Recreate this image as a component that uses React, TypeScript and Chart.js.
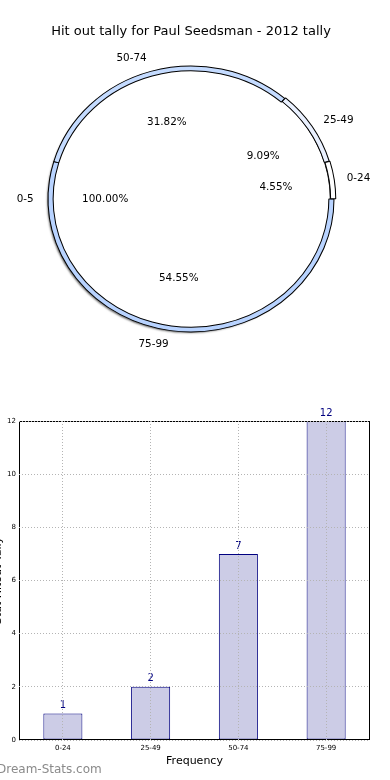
import React, { useEffect, useRef } from 'react';
import { Chart, registerables } from 'chart.js';

Chart.register(...registerables);
Chart.defaults.font.family = '"DejaVu Sans", sans-serif';

const TITLE = 'Hit out tally for Paul Seedsman - 2012 tally';
const ringLabels = ['0-24', '25-49', '50-74', '75-99'];
const ringValues = [1, 2, 7, 12];
const ringColors = ['#ffffff', '#eaf1ff', '#c4dbff', '#b8d3ff'];
const ringOffsets = [4, 3, 0, 0];
const innerLabels = ['0-5'];
const innerValues = [1];

const barCategories = ['0-24', '25-49', '50-74', '75-99'];
const barValues = [1, 2, 7, 12];
const yTicks = [0, 2, 4, 6, 8, 10, 12];
const X_TITLE = 'Frequency';
const Y_TITLE = 'Stat Hitout Tally';
const WATERMARK = 'Dream-Stats.com';

// the reference pie is slightly elliptical
const SX = 143 / 139;
const SY = 133 / 139;

const pieShapePlugin = {
  id: 'pieShape',
  beforeDatasetsDraw(chart: any) {
    const ctx = chart.ctx;
    const ring = chart.getDatasetMeta(0).data[0];
    const { x, y, outerRadius } = ring.getProps(['x', 'y', 'outerRadius']);
    ctx.save();
    ctx.translate(x, y);
    ctx.scale(SX, SY);
    ctx.translate(-x, -y);
    ctx.save();
    ctx.shadowColor = 'rgba(0,0,0,0.55)';
    ctx.shadowBlur = 2;
    ctx.shadowOffsetX = -2;
    ctx.shadowOffsetY = 2;
    ctx.beginPath();
    ctx.arc(x, y, outerRadius - 1, 0, Math.PI * 2);
    ctx.fillStyle = '#ffffff';
    ctx.fill();
    ctx.restore();
  },
  afterDatasetDraw(chart: any, args: any) {
    if (args.index !== 1) return;
    const ctx = chart.ctx;
    const arc = args.meta.data[0];
    const { x, y, outerRadius } = arc.getProps(['x', 'y', 'outerRadius']);
    ctx.save();
    ctx.beginPath();
    ctx.arc(x, y, outerRadius - 0.5, 0, Math.PI * 2);
    ctx.strokeStyle = '#000';
    ctx.lineWidth = 1;
    ctx.stroke();
    ctx.restore();
  },
  afterDatasetsDraw(chart: any) {
    chart.ctx.restore();
  },
};

const pieLabelPlugin = {
  id: 'pieLabels',
  afterDatasetsDraw(chart: any) {
    const ctx = chart.ctx;
    const ring = chart.getDatasetMeta(0);
    const R = ring.data[0].outerRadius;
    ctx.save();
    ctx.font = '10.4px "DejaVu Sans"';
    ctx.fillStyle = '#000';
    ctx.textBaseline = 'middle';
    chart.data.datasets.forEach((ds: any, di: number) => {
      const meta = chart.getDatasetMeta(di);
      const total = ds.data.reduce((a: number, b: number) => a + b, 0);
      meta.data.forEach((arc: any, i: number) => {
        const { x, y, startAngle, endAngle } = arc.getProps(['x', 'y', 'startAngle', 'endAngle']);
        const mid = (startAngle + endAngle) / 2;
        const c = Math.cos(mid);
        const s = Math.sin(mid);
        ctx.textAlign = c < -1e-6 ? 'right' : 'left';
        ctx.fillText(ds.sliceLabels[i], x + c * R * SX * 1.1, y + s * R * SY * 1.1);
        ctx.textAlign = 'center';
        const pct = ((ds.data[i] / total) * 100).toFixed(2) + '%';
        ctx.fillText(pct, x + c * R * SX * 0.6, y + s * R * SY * 0.6);
      });
    });
    ctx.restore();
  },
};

const boxPlugin = {
  id: 'boxPlugin',
  afterDatasetsDraw(chart: any) {
    const { ctx, chartArea } = chart;
    ctx.save();
    ctx.strokeStyle = '#000';
    ctx.lineWidth = 1;
    ctx.strokeRect(
      Math.round(chartArea.left) + 0.5,
      Math.round(chartArea.top) + 0.5,
      Math.round(chartArea.right - chartArea.left) - 1,
      Math.round(chartArea.bottom - chartArea.top) - 1
    );
    ctx.restore();
  },
};

const valueLabelPlugin = {
  id: 'valueLabels',
  afterDatasetsDraw(chart: any) {
    const ctx = chart.ctx;
    const meta = chart.getDatasetMeta(0);
    ctx.save();
    ctx.font = '10px "DejaVu Sans"';
    ctx.fillStyle = '#000080';
    ctx.textAlign = 'center';
    ctx.textBaseline = 'bottom';
    meta.data.forEach((bar: any, i: number) => {
      ctx.fillText(String(chart.data.datasets[0].data[i]), bar.x, bar.y - 3);
    });
    ctx.restore();
  },
};

export default function App() {
  const pieRef = useRef<HTMLCanvasElement>(null);
  const barRef = useRef<HTMLCanvasElement>(null);

  useEffect(() => {
    document.body.style.margin = '0';
    const rev = <T,>(a: T[]) => [...a].reverse();
    const pie = new Chart(pieRef.current as HTMLCanvasElement, {
      type: 'doughnut',
      data: {
        labels: rev(ringLabels),
        datasets: [
          {
            data: rev(ringValues),
            backgroundColor: rev(ringColors),
            offset: rev(ringOffsets),
            borderColor: '#000',
            borderWidth: 1,
            weight: 5,
            clip: false,
            sliceLabels: rev(ringLabels),
          } as any,
          {
            data: innerValues,
            backgroundColor: ['#ffffff'],
            borderWidth: 0,
            weight: 134,
            clip: false,
            sliceLabels: innerLabels,
          } as any,
        ],
      },
      options: {
        animation: false,
        responsive: false,
        cutout: 0,
        rotation: 90,
        layout: { padding: { top: 0, left: 49.5, right: 57.5, bottom: 39.5 } },
        plugins: {
          legend: { display: false },
          tooltip: { enabled: false },
          title: {
            display: true,
            text: TITLE,
            color: '#000',
            font: { size: 13, weight: 'normal' },
            padding: { top: 24, bottom: 17.9 },
          },
        },
      } as any,
      plugins: [pieShapePlugin, pieLabelPlugin],
    });

    const bar = new Chart(barRef.current as HTMLCanvasElement, {
      type: 'bar',
      data: {
        labels: barCategories,
        datasets: [
          {
            data: barValues,
            backgroundColor: '#cccce6',
            borderColor: '#000080',
            borderWidth: 1,
            borderSkipped: false,
            barPercentage: 0.445,
            categoryPercentage: 1,
          },
        ],
      },
      options: {
        animation: false,
        responsive: false,
        layout: { padding: { top: 21, right: 20, left: 0, bottom: 0 } },
        plugins: { legend: { display: false }, tooltip: { enabled: false } },
        scales: {
          x: {
            grid: { offset: false, color: '#b4b4b4', drawTicks: false, z: 1 },
            border: { display: false, dash: [1, 2] },
            ticks: { font: { size: 7 }, color: '#000', padding: 4 },
            title: {
              display: true,
              text: X_TITLE,
              color: '#000',
              font: { size: 11 },
              padding: { top: 0, bottom: 12 },
            },
            afterFit: (s: any) => {
              s.height = 40;
            },
          },
          y: {
            min: 0,
            max: 12,
            afterBuildTicks: (s: any) => {
              s.ticks = yTicks.map((v) => ({ value: v }));
            },
            grid: { color: '#b4b4b4', drawTicks: false, z: 1 },
            border: { display: false, dash: [1, 2] },
            ticks: { font: { size: 7 }, color: '#000', padding: 3 },
            title: {
              display: true,
              text: Y_TITLE,
              color: '#000',
              font: { size: 11 },
              padding: { top: 2, bottom: 0 },
            },
            afterFit: (s: any) => {
              s.width = 29;
            },
          },
        },
      } as any,
      plugins: [boxPlugin, valueLabelPlugin],
    });

    return () => {
      pie.destroy();
      bar.destroy();
    };
  }, []);

  return (
    <div style={{ position: 'relative', width: 390, height: 780, overflow: 'hidden', background: '#fff' }}>
      <canvas
        ref={pieRef}
        width={390}
        height={380}
        style={{ position: 'absolute', left: 0, top: 0, display: 'block' }}
      />
      <canvas
        ref={barRef}
        width={400}
        height={380}
        style={{ position: 'absolute', left: -10, top: 400, display: 'block' }}
      />
      <div
        style={{
          position: 'absolute',
          left: -3,
          top: 762,
          fontFamily: '"DejaVu Sans", sans-serif',
          fontSize: 12,
          color: '#8a8a8a',
          lineHeight: '14px',
          whiteSpace: 'nowrap',
        }}
      >
        {WATERMARK}
      </div>
    </div>
  );
}
